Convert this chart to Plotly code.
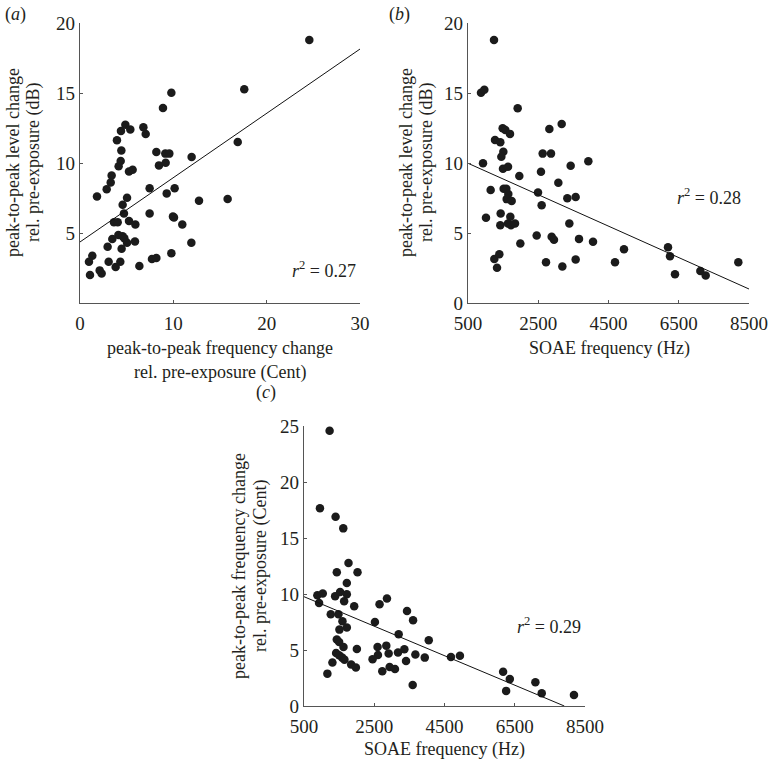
import plotly.graph_objects as go

# ---------------- data ----------------
# (a) frequency change (Cent) vs level change (dB)
a_freq_change = [24.57, 17.6, 16.9, 9.79, 8.89, 6.79, 7.04, 4.86, 4.39, 5.39, 3.96, 4.43, 4.36, 4.14,
                 3.39, 3.29, 2.86, 1.82, 5.25, 5.64, 8.18, 9.14, 9.57, 8.46, 9.18, 11.96, 7.46, 10.14,
                 9.29, 5.04, 4.57, 12.75, 15.82, 4.71, 7.46, 3.64, 4.04, 5.25, 5.93, 9.96, 10.07, 10.96,
                 4.11, 3.46, 4.57, 4.75, 5.04, 5.89, 2.96, 4.46, 11.93, 9.79, 7.71, 8.18, 1.32, 0.96,
                 3.07, 4.32, 3.82, 6.36, 2.11, 2.32, 1.07]
a_level_change = [18.79, 15.26, 11.5, 15.02, 13.93, 12.55, 12.07, 12.74, 12.29, 12.4, 11.62, 10.9, 10.14,
                  9.76, 9.1, 8.6, 8.12, 7.6, 9.4, 9.52, 10.79, 10.67, 10.67, 9.83, 10.02, 10.43, 8.19,
                  8.19, 7.83, 7.52, 7.02, 7.31, 7.43, 6.4, 6.4, 5.76, 5.76, 5.86, 5.6, 6.17, 6.1, 5.6,
                  4.86, 4.57, 4.76, 4.62, 4.31, 4.4, 4.02, 3.88, 4.31, 3.55, 3.14, 3.21, 3.38, 2.95,
                  2.95, 2.95, 2.57, 2.64, 2.33, 2.1, 2.0]
a_fit_x = [0, 30]
a_fit_y = [4.36, 18.14]
a_r2 = "0.27"

# (b) SOAE frequency (Hz) vs level change (dB)
b_soae_freq = [1240, 870, 965, 1914, 927, 1487, 1563, 1696, 1269, 1420, 1506, 1449, 1496, 1639, 1961,
               1145, 1515, 1591, 1648, 1601, 1743, 1012, 1430, 1705, 1420, 1639, 1724, 1838, 1990,
               1250, 1392, 1326, 2816, 3167, 2626, 2863, 2578, 3423, 3926, 3072, 2493, 3328, 3565,
               2597, 3385, 2455, 2882, 2948, 3660, 4059, 2721, 3186, 3565, 4685, 4941, 6194, 6251,
               6393, 7115, 7267, 8196]
b_level_change = [18.78, 15.01, 15.23, 13.91, 9.98, 12.48, 12.36, 12.08, 11.65, 11.48, 10.81, 10.45,
                  9.59, 9.74, 9.07, 8.07, 8.16, 8.16, 7.78, 7.42, 7.28, 6.09, 6.4, 6.16, 5.56, 5.68,
                  5.56, 5.68, 4.25, 3.15, 3.48, 2.51, 12.43, 12.79, 10.67, 10.67, 9.38, 9.81, 10.12,
                  8.59, 7.9, 7.49, 7.57, 6.99, 5.68, 4.82, 4.73, 4.51, 4.58, 4.37, 2.91, 2.6, 3.1,
                  2.91, 3.84, 3.99, 3.34, 2.05, 2.29, 1.96, 2.91]
b_fit_x = [500, 8500]
b_fit_y = [9.98, 1.0]
b_r2 = "0.28"

# (c) SOAE frequency (Hz) vs frequency change (Cent)
c_soae_freq = [1229, 954, 1399, 1618, 1767, 1434, 2024, 1719, 880, 1034, 929, 1386, 1529, 1719, 1643,
               1929, 1262, 1481, 1595, 1719, 1509, 1434, 1500, 1624, 2005, 1414, 1500, 1586, 1652,
               1309, 1843, 1977, 1166, 2651, 2862, 2519, 2595, 2843, 2605, 2452, 2910, 3176, 3357,
               2729, 2938, 3090, 3195, 3433, 3605, 3405, 3671, 3938, 4052, 3595, 4683, 4939, 6169,
               6359, 6255, 7088, 7268, 8186]
c_freq_change = [24.58, 17.65, 16.9, 15.86, 12.77, 11.94, 11.94, 10.98, 9.88, 10.04, 9.2, 9.79, 10.18,
                 9.97, 9.35, 8.9, 8.19, 8.19, 7.56, 7.0, 6.82, 5.93, 5.71, 5.27, 5.09, 4.73, 4.53,
                 4.32, 4.14, 3.88, 3.7, 3.43, 2.89, 9.08, 9.59, 7.5, 5.27, 5.39, 4.55, 4.17, 4.68,
                 4.77, 5.06, 3.1, 3.48, 3.3, 6.4, 8.48, 7.65, 4.02, 4.59, 4.32, 5.87, 1.88, 4.37,
                 4.49, 3.05, 2.4, 1.35, 2.13, 1.14, 0.99]
c_fit_x = [500, 7911]
c_fit_y = [9.76, 0.0]
c_r2 = "0.29"

a_xticks = [0, 10, 20, 30]
a_yticks = [5, 10, 15, 20]
b_xticks = [500, 2500, 4500, 6500, 8500]
b_yticks = [0, 5, 10, 15, 20]
c_xticks = [500, 2500, 4500, 6500, 8500]
c_yticks = [0, 5, 10, 15, 20, 25]

# ---------------- figure ----------------
FONT = "Liberation Serif"
TXT = "#231f20"
DOT = "#1b1b1b"
W, H = 768, 759

fig = go.Figure()

def add_panel(xs, ys, fx, fy, xa, ya):
    fig.add_trace(go.Scatter(x=xs, y=ys, mode="markers", xaxis=xa, yaxis=ya,
                             marker=dict(size=8.5, color=DOT, line=dict(width=0)),
                             showlegend=False, hoverinfo="skip", cliponaxis=False))
    fig.add_trace(go.Scatter(x=fx, y=fy, mode="lines", xaxis=xa, yaxis=ya,
                             line=dict(color="#111", width=1),
                             showlegend=False, hoverinfo="skip"))

add_panel(a_freq_change, a_level_change, a_fit_x, a_fit_y, "x", "y")
add_panel(b_soae_freq, b_level_change, b_fit_x, b_fit_y, "x2", "y2")
add_panel(c_soae_freq, c_freq_change, c_fit_x, c_fit_y, "x3", "y3")

def px_x(p):
    return p / W

def px_y(p):
    return 1 - p / H

axis_common = dict(showline=True, linecolor="#555", linewidth=1.2, mirror=False,
                   showgrid=False, zeroline=False, ticks="inside", ticklen=3,
                   tickcolor="#555", tickwidth=1, automargin=False,
                   tickfont=dict(family=FONT, size=19, color=TXT), fixedrange=True)
x_common = dict(axis_common, ticklabelstandoff=3)

fig.update_layout(
    width=W, height=H,
    margin=dict(l=0, r=0, t=0, b=0, autoexpand=False),
    paper_bgcolor="white", plot_bgcolor="white",
    xaxis=dict(domain=[px_x(80), px_x(360)], range=[0, 30], tickvals=a_xticks,
               anchor="y", **x_common),
    yaxis=dict(domain=[px_y(303), px_y(23)], range=[0, 20], tickvals=a_yticks,
               anchor="x", **axis_common),
    xaxis2=dict(domain=[px_x(468), px_x(749)], range=[500, 8500], tickvals=b_xticks,
                anchor="y2", **x_common),
    yaxis2=dict(domain=[px_y(303), px_y(23)], range=[0, 20], tickvals=b_yticks,
                anchor="x2", **axis_common),
    xaxis3=dict(domain=[px_x(304), px_x(585)], range=[500, 8500], tickvals=c_xticks,
                anchor="y3", **x_common),
    yaxis3=dict(domain=[px_y(706), px_y(426)], range=[0, 25], tickvals=c_yticks,
                anchor="x3", **axis_common),
)

def note(text, x, y, size=18, angle=0, xanchor="center", yanchor="middle", xref="paper", yref="paper"):
    fig.add_annotation(text=text, x=x, y=y, xref=xref, yref=yref, showarrow=False,
                       textangle=angle, xanchor=xanchor, yanchor=yanchor,
                       font=dict(family=FONT, size=size, color=TXT))

# panel labels
note("(<i>a</i>)", px_x(3), px_y(14), xanchor="left")
note("(<i>b</i>)", px_x(387), px_y(14), xanchor="left")
note("(<i>c</i>)", px_x(254), px_y(392), xanchor="left")

# axis titles (a)
note("peak-to-peak level change", px_x(13), px_y(163), angle=-90)
note("rel. pre-exposure (dB)", px_x(34), px_y(163), angle=-90)
note("peak-to-peak frequency change", px_x(220), px_y(348))
note("rel. pre-exposure (Cent)", px_x(220), px_y(372))

# axis titles (b)
note("peak-to-peak level change", px_x(406), px_y(163), angle=-90)
note("rel. pre-exposure (dB)", px_x(427), px_y(163), angle=-90)
note("SOAE frequency (Hz)", px_x(609), px_y(348))

# axis titles (c)
note("peak-to-peak frequency change", px_x(239), px_y(566), angle=-90)
note("rel. pre-exposure (Cent)", px_x(260), px_y(566), angle=-90)
note("SOAE frequency (Hz)", px_x(444), px_y(749))

# r^2 labels (data coordinates)
note("<i>r</i><sup>2</sup> = " + a_r2, 29.8, 2.4, xanchor="right", xref="x", yref="y")
note("<i>r</i><sup>2</sup> = " + b_r2, 8330, 7.6, xanchor="right", xref="x2", yref="y2")
note("<i>r</i><sup>2</sup> = " + c_r2, 8430, 7.2, xanchor="right", xref="x3", yref="y3")

fig.write_html("out.html",
               config={"displayModeBar": False, "staticPlot": True},
               post_script="document.body.style.margin='0';document.body.style.overflow='hidden';")
